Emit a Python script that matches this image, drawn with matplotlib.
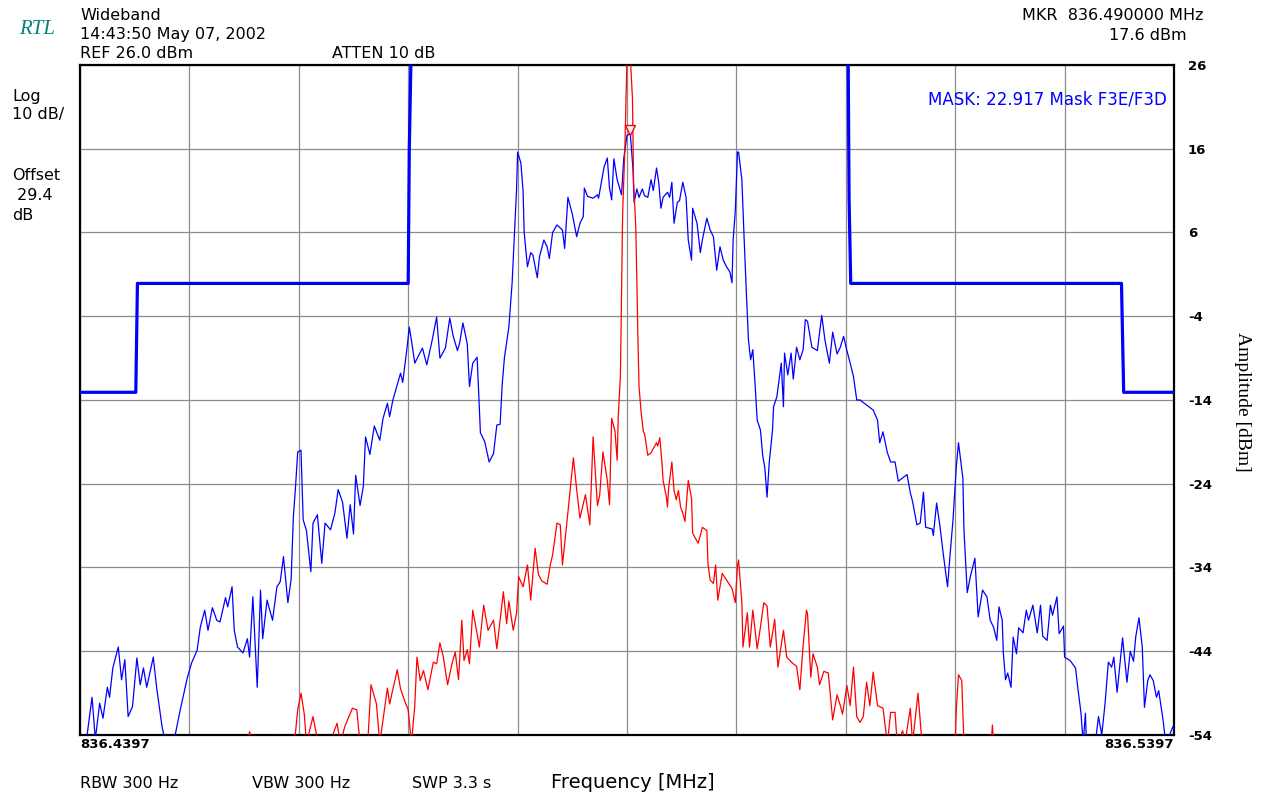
import numpy as np
import matplotlib
matplotlib.use("Agg")
import matplotlib.pyplot as plt
import matplotlib.transforms as mtransforms

# ---------------- data ----------------
START_MHZ = 836.4397
STOP_MHZ = 836.5397

# blue trace: frequency offset from start (kHz) and amplitude (dBm)
blue_khz = [0.0, 0.6, 1.1, 1.4, 1.8, 2.1, 2.5, 2.7, 3.0, 3.5, 3.8, 4.1, 4.4, 4.8, 5.2, 5.5, 5.8, 6.1, 6.7, 7.0,
            7.5, 7.9, 8.4, 8.7, 9.1, 9.8, 10.2, 10.7, 11.0, 11.4, 11.7, 12.1, 12.5, 12.8, 13.3, 13.5, 13.9, 14.1,
            14.4, 14.9, 15.3, 15.5, 15.8, 16.2, 16.5, 16.7, 17.1, 17.6, 18.0, 18.3, 18.6, 19.0, 19.3, 19.5, 19.7,
            19.9, 20.2, 20.4, 20.7, 21.1, 21.3, 21.7, 22.1, 22.4, 22.9, 23.3, 23.6, 24.0, 24.4, 24.7, 25.0, 25.2,
            25.6, 25.9, 26.1, 26.5, 26.9, 27.4, 27.7, 28.1, 28.3, 28.6, 29.3, 29.5, 29.9, 30.1, 30.3, 30.6, 31.3,
            31.7, 32.2, 32.6, 32.9, 33.4, 33.8, 34.1, 34.5, 34.7, 35.0, 35.4, 35.6, 35.9, 36.3, 36.6, 37.0, 37.4,
            37.8, 38.1, 38.4, 38.6, 38.8, 39.2, 39.5, 39.7, 39.9, 40.0, 40.3, 40.5, 40.6, 40.9, 41.2, 41.4, 41.8,
            42.0, 42.4, 42.7, 42.9, 43.2, 43.6, 44.1, 44.3, 44.6, 45.0, 45.4, 45.7, 46.0, 46.1, 46.4, 46.9, 47.3,
            47.4, 47.7, 47.9, 48.2, 48.4, 48.6, 48.8, 49.1, 49.5, 49.7, 50.0, 50.3, 50.55, 50.65, 50.9, 51.1, 51.4,
            51.6, 51.9, 52.2, 52.4, 52.7, 52.9, 53.1, 53.3, 53.7, 53.9, 54.1, 54.3, 54.6, 54.8, 55.1, 55.4, 55.6,
            55.9, 56.0, 56.4, 56.7, 56.9, 57.3, 57.6, 57.9, 58.2, 58.5, 58.8, 59.1, 59.4, 59.6, 59.7, 59.9, 60.1,
            60.2, 60.5, 60.7, 60.9, 61.1, 61.3, 61.5, 61.7, 61.9, 62.2, 62.4, 62.6, 62.8, 63.0, 63.3, 63.4, 63.7,
            64.1, 64.3, 64.4, 64.7, 65.0, 65.2, 65.5, 65.8, 66.1, 66.3, 66.5, 66.9, 67.4, 67.8, 68.1, 68.5, 68.8,
            69.2, 69.5, 69.8, 70.1, 70.4, 70.7, 71.0, 71.3, 71.9, 72.5, 72.9, 73.1, 73.4, 73.8, 74.1, 74.5, 74.8,
            75.2, 75.6, 75.9, 76.1, 76.5, 76.8, 77.1, 77.3, 77.9, 78.0, 78.3, 78.6, 78.9, 79.3, 79.5, 79.8, 80.1,
            80.3, 80.7, 80.8, 81.1, 81.4, 81.8, 82.1, 82.5, 82.9, 83.2, 83.5, 83.8, 84.0, 84.3, 84.4, 84.6, 84.8,
            85.1, 85.3, 85.6, 85.8, 86.2, 86.5, 86.7, 87.1, 87.5, 87.8, 88.0, 88.4, 88.7, 88.9, 89.3, 89.5, 89.9,
            90.0, 90.5, 91.0, 91.2, 91.5, 91.7, 91.9, 92.0, 92.8, 93.1, 93.4, 93.7, 94.0, 94.3, 94.5, 94.8, 95.1,
            95.3, 95.7, 96.0, 96.3, 96.5, 96.8, 97.1, 97.3, 97.6, 97.8, 98.1, 98.4, 98.6, 99.0, 99.2, 99.6, 99.9,
            100.0]
blue_dbm = [-56.0, -54.5, -49.5, -54.5, -50.2, -52.0, -48.3, -49.5, -46.0, -43.5, -47.4, -45.0, -51.8, -50.6,
            -44.8, -48.0, -46.0, -48.3, -44.7, -48.3, -53.0, -55.5, -55.5, -54.0, -51.4, -47.2, -45.4, -43.9, -41.1,
            -39.1, -41.5, -38.8, -40.3, -40.5, -37.6, -38.7, -36.3, -41.5, -43.5, -44.2, -42.5, -44.7, -37.5, -48.3,
            -36.7, -42.5, -37.9, -40.3, -36.3, -35.7, -32.7, -38.2, -35.4, -28.0, -24.4, -20.2, -20.0, -28.3, -29.6,
            -34.5, -28.7, -27.7, -33.5, -28.7, -29.5, -27.5, -24.7, -26.2, -30.5, -26.5, -30.0, -23.0, -26.6, -24.3,
            -18.4, -20.5, -17.1, -18.8, -16.2, -14.4, -16.0, -14.0, -10.8, -11.9, -7.7, -5.3, -6.9, -9.6, -7.8, -9.8,
            -6.8, -4.1, -9.0, -7.8, -4.2, -6.3, -8.1, -7.2, -4.8, -7.3, -12.4, -9.6, -8.9, -17.9, -19.0, -21.4, -20.4,
            -17.0, -16.9, -12.0, -8.9, -5.3, 0.0, 5.5, 11.0, 15.6, 14.3, 11.0, 6.0, 1.9, 3.6, 3.3, 0.6, 3.1, 5.1, 4.3,
            2.9, 6.0, 6.9, 6.3, 4.1, 10.2, 8.2, 5.5, 7.1, 7.9, 11.3, 10.3, 10.1, 10.5, 10.1, 12.3, 13.8, 14.9, 11.3,
            9.9, 14.8, 12.3, 10.5, 14.8, 17.6, 17.8, 13.5, 9.6, 11.2, 10.2, 11.2, 10.4, 10.2, 12.3, 11.0, 13.7, 12.0,
            8.9, 10.2, 10.8, 10.2, 12.0, 7.1, 9.6, 9.8, 12.0, 10.2, 5.1, 2.7, 8.9, 7.1, 3.6, 5.2, 7.7, 6.3, 5.5, 1.5,
            4.3, 2.7, 1.9, 1.3, 0.0, 5.1, 8.6, 15.6, 15.6, 12.3, 5.5, -0.9, -6.8, -9.2, -8.0, -12.0, -16.4, -17.6,
            -20.6, -22.1, -25.6, -21.5, -17.6, -14.8, -13.6, -9.6, -14.8, -8.4, -11.0, -8.4, -11.5, -7.7, -9.2, -8.0,
            -4.4, -4.6, -7.7, -8.1, -3.9, -6.9, -9.6, -5.9, -8.5, -7.7, -6.4, -8.1, -9.6, -11.2, -14.0, -14.0, -14.6,
            -15.2, -16.4, -19.1, -17.8, -20.3, -21.4, -21.4, -23.7, -23.3, -22.9, -25.1, -26.1, -28.9, -28.7, -25.0,
            -29.2, -29.4, -30.2, -26.3, -29.0, -32.3, -36.3, -33.0, -28.3, -22.0, -19.1, -23.3, -29.5, -37.0, -35.0,
            -32.9, -39.9, -36.7, -37.5, -40.3, -41.1, -42.7, -38.7, -40.3, -44.2, -47.4, -46.6, -48.3, -42.3, -44.3,
            -41.2, -41.8, -39.1, -40.3, -38.5, -41.8, -38.5, -42.2, -42.7, -38.5, -39.7, -37.5, -41.9, -41.0, -44.7,
            -45.1, -46.0, -48.3, -51.4, -55.0, -51.4, -55.0, -55.0, -51.8, -54.0, -50.2, -45.3, -45.9, -44.7, -48.9,
            -45.0, -42.4, -47.7, -44.0, -45.2, -42.3, -40.0, -43.5, -50.7, -47.5, -46.8, -47.5, -49.5, -48.7, -52.2,
            -54.5, -54.0, -53.0, -53.5]

# red trace
red_khz = [0.0, 15.1, 15.5, 15.9, 17.8, 18.1, 18.5, 19.6, 19.9, 20.2, 20.5, 20.7, 21.3, 21.7, 21.9, 22.7, 23.1,
           23.5, 23.8, 24.2, 24.9, 25.3, 25.6, 26.3, 26.6, 27.1, 27.4, 28.1, 28.3, 29.0, 29.3, 29.7, 30.0, 30.3,
           30.6, 30.8, 31.1, 31.4, 31.8, 32.3, 32.6, 32.9, 33.2, 33.6, 34.0, 34.3, 34.6, 34.9, 35.1, 35.4, 35.6,
           35.9, 36.3, 36.5, 36.9, 37.3, 37.8, 38.1, 38.4, 38.7, 39.0, 39.2, 39.6, 39.9, 40.1, 40.5, 40.9, 41.2,
           41.6, 41.9, 42.2, 42.7, 43.0, 43.2, 43.6, 43.9, 44.1, 44.6, 45.1, 45.4, 45.7, 46.2, 46.6, 46.9, 47.3,
           47.5, 47.8, 48.2, 48.4, 48.6, 48.9, 49.1, 49.2, 49.4, 49.5, 49.6, 49.8, 50.0, 50.3, 50.5, 50.6, 50.8,
           50.9, 51.0, 51.1, 51.3, 51.5, 51.6, 51.9, 52.2, 52.4, 52.7, 52.8, 53.0, 53.2, 53.3, 53.6, 53.7, 53.8,
           54.1, 54.3, 54.5, 54.7, 54.9, 55.1, 55.3, 55.6, 55.9, 56.0, 56.5, 56.9, 57.3, 57.4, 57.6, 57.9, 58.1,
           58.3, 58.7, 59.1, 59.6, 59.9, 60.1, 60.2, 60.5, 60.6, 61.0, 61.2, 61.5, 61.9, 62.2, 62.5, 62.8, 63.1,
           63.5, 63.8, 64.3, 64.6, 65.1, 65.5, 65.8, 66.1, 66.4, 66.5, 66.8, 67.0, 67.4, 67.6, 68.0, 68.4, 68.8,
           69.2, 69.5, 69.7, 70.1, 70.4, 70.7, 71.0, 71.3, 71.6, 71.9, 72.2, 72.5, 72.9, 73.4, 73.8, 74.1, 74.5,
           74.7, 75.2, 75.4, 75.9, 76.1, 76.6, 77.0, 77.2, 79.7, 80.0, 80.1, 80.3, 80.6, 80.8, 81.1, 83.0, 83.3,
           83.4, 83.5, 83.7, 100.0]
red_dbm = [-60.0, -58.0, -53.6, -55.5, -55.5, -54.0, -56.0, -55.0, -51.0, -49.0, -51.5, -55.0, -51.8, -54.5,
           -55.5, -55.5, -54.0, -52.6, -55.0, -53.0, -50.8, -51.0, -55.0, -55.0, -48.0, -50.3, -55.0, -48.4, -50.3,
           -46.2, -48.5, -50.0, -51.0, -55.0, -50.5, -44.7, -47.5, -46.3, -48.6, -45.3, -45.5, -43.0, -44.6, -48.0,
           -45.5, -44.1, -47.4, -40.3, -45.1, -43.8, -45.5, -39.1, -41.9, -43.5, -38.5, -41.5, -40.3, -43.7, -40.3,
           -36.9, -40.7, -38.0, -41.5, -39.5, -35.1, -36.3, -33.7, -37.9, -31.7, -34.8, -35.6, -36.0, -33.6, -32.5,
           -28.7, -28.9, -33.7, -27.4, -20.9, -24.7, -28.1, -25.3, -28.9, -18.4, -26.6, -25.4, -20.2, -23.6, -26.5,
           -16.2, -17.7, -21.2, -16.0, -11.0, -1.7, 8.3, 15.8, 27.0, 27.0, 22.0, 12.0, 6.7, 0.3, -6.8, -12.4, -15.6,
           -17.8, -18.0, -20.6, -20.3, -19.8, -19.1, -19.5, -18.5, -21.6, -23.6, -25.6, -26.8, -24.6, -21.4, -24.8,
           -25.9, -24.8, -26.8, -27.5, -28.5, -23.6, -25.8, -29.9, -31.1, -29.2, -29.6, -33.5, -35.5, -35.9, -33.7,
           -37.9, -34.7, -35.5, -36.5, -38.2, -33.7, -33.1, -38.2, -43.5, -39.4, -43.5, -39.1, -43.7, -41.1, -38.2,
           -38.6, -43.5, -40.2, -45.9, -41.5, -44.7, -45.4, -45.8, -48.6, -43.3, -39.1, -39.5, -47.1, -44.3, -45.9,
           -48.0, -46.4, -46.6, -52.2, -49.2, -50.5, -51.5, -48.1, -50.5, -45.9, -51.8, -52.5, -51.8, -47.7, -50.5,
           -46.5, -50.5, -50.8, -55.0, -51.3, -51.3, -55.0, -53.5, -55.0, -50.8, -55.0, -49.0, -55.5, -58.0, -58.0,
           -55.0, -51.0, -46.8, -47.5, -55.0, -58.0, -58.0, -55.0, -52.8, -55.0, -58.0, -60.0]

# mask (limit line)
mask_khz = [0.0, 5.1, 5.25, 30.0, 30.1, 30.3, 70.2, 70.3, 70.45, 95.2, 95.4, 100.0]
mask_dbm = [-13.08, -13.08, -0.08, -0.08, 16.0, 30.0, 30.0, 10.0, -0.08, -0.08, -13.08, -13.08]

marker_mhz = 836.490000
marker_dbm = 17.6

yticks = [26, 16, 6, -4, -14, -24, -34, -44, -54]

# ---------------- figure ----------------
W, H = 1262, 800
fig = plt.figure(figsize=(W / 100, H / 100), dpi=100)
fig.patch.set_facecolor("white")
ax = fig.add_axes([80 / W, 1 - 735 / H, (1174 - 80) / W, (735 - 65) / H])

def to_mhz(khz):
    return START_MHZ + np.asarray(khz) / 1000.0

ax.plot(to_mhz(mask_khz), mask_dbm, color="#0000ff", lw=2.3, zorder=3)
ax.plot(to_mhz(blue_khz), blue_dbm, color="#0000ff", lw=0.9, zorder=4)
ax.plot(to_mhz(red_khz), red_dbm, color="#ff0000", lw=0.9, zorder=5)

mk_tr = mtransforms.offset_copy(ax.transData, fig=fig, x=0, y=5, units="dots")
ax.plot([marker_mhz], [marker_dbm], marker="v", ms=7, mfc="white", mec="#ff0000", mew=1.0,
        transform=mk_tr, zorder=6, clip_on=False)

ax.set_xlim(START_MHZ, STOP_MHZ)
ax.set_ylim(-54, 26)
ax.set_xticks(np.linspace(START_MHZ, STOP_MHZ, 11))
ax.set_xticklabels([])
ax.set_yticks(yticks)
ax.set_yticklabels([str(v) for v in yticks])
ax.yaxis.tick_right()
ax.tick_params(axis="both", length=0)
ax.tick_params(axis="y", pad=10, labelsize=9.5)
for lab in ax.get_yticklabels():
    lab.set_fontweight("bold")
    lab.set_family("DejaVu Sans")
ax.grid(True, color="#8c8c8c", lw=0.9)
ax.set_axisbelow(True)
for s in ax.spines.values():
    s.set_linewidth(1.6)
    s.set_color("black")

def ftxt(x, y, s, **kw):
    kw.setdefault("va", "center")
    kw.setdefault("fontsize", 11.5)
    kw.setdefault("family", "DejaVu Sans")
    fig.text(x / W, 1 - y / H, s, **kw)

ftxt(19, 29, "RTL", family="Liberation Serif", style="italic", fontsize=15, color="#0a8080")
ftxt(80, 15, "Wideband")
ftxt(80, 35, "14:43:50 May 07, 2002")
ftxt(80, 54, "REF 26.0 dBm")
ftxt(332, 54, "ATTEN 10 dB")
ftxt(1204, 16, "MKR  836.490000 MHz", ha="right")
ftxt(1187, 36, "17.6 dBm", ha="right")
ftxt(1167, 100, "MASK: 22.917 Mask F3E/F3D", ha="right", color="#0000ff", fontsize=12)

ftxt(12, 96, "Log")
ftxt(12, 115, "10 dB/")
ftxt(12, 176, "Offset")
ftxt(12, 196, " 29.4")
ftxt(12, 216, "dB")

ftxt(80, 744, "836.4397", fontweight="bold", fontsize=9.5)
ftxt(1174, 744, "836.5397", ha="right", fontweight="bold", fontsize=9.5)

ftxt(80, 784, "RBW 300 Hz")
ftxt(252, 784, "VBW 300 Hz")
ftxt(412, 784, "SWP 3.3 s")
ftxt(551, 782, "Frequency [MHz]", fontsize=14)

ftxt(1242, 402, "Amplitude [dBm]", family="Liberation Serif", fontsize=14, rotation=270, ha="center")

fig.savefig("out.png", dpi=100)
